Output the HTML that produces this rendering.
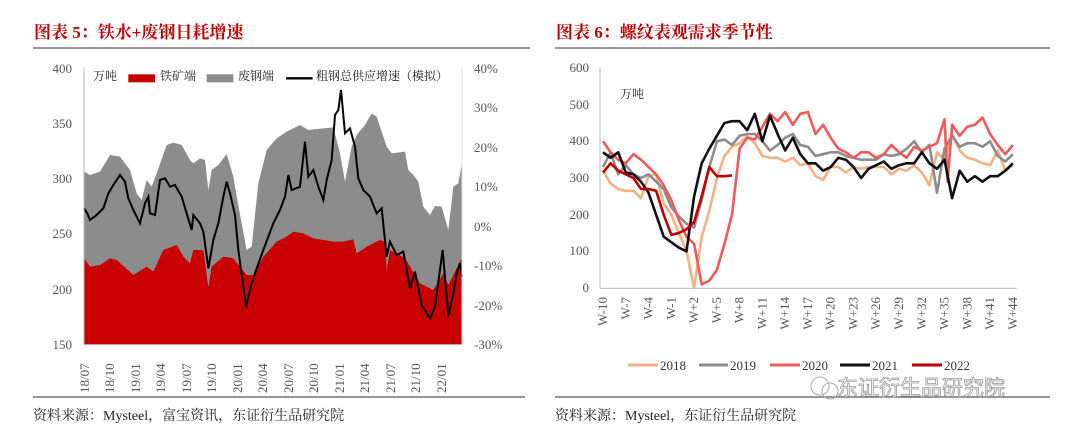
<!DOCTYPE html>
<html><head><meta charset="utf-8"><style>
body{margin:0;width:1080px;height:436px;background:#fff;overflow:hidden;font-family:"Liberation Serif","Noto Serif CJK SC",serif;}
</style></head><body>
<svg width="1080" height="436" xmlns="http://www.w3.org/2000/svg" font-family="Liberation Serif, Noto Serif CJK SC, serif">
<text x="34" y="38" font-size="17" font-weight="bold" fill="#c00000">图表 5：铁水+废钢日耗增速</text>
<text x="556" y="38" font-size="17" font-weight="bold" fill="#c00000">图表 6：螺纹表观需求季节性</text>
<line x1="33" y1="48" x2="530" y2="48" stroke="#777" stroke-width="1.5"/>
<line x1="555" y1="48" x2="1050" y2="48" stroke="#777" stroke-width="1.5"/>
<line x1="33" y1="397" x2="525" y2="397" stroke="#555" stroke-width="1.2"/>
<line x1="555" y1="397" x2="1050" y2="397" stroke="#555" stroke-width="1.2"/>
<text x="33" y="420" font-size="14" fill="#222">资料来源：Mysteel，富宝资讯，东证衍生品研究院</text>
<text x="555" y="420" font-size="14" fill="#222">资料来源：Mysteel，东证衍生品研究院</text>

<!-- left chart -->
<g transform="translate(0,50) scale(0.3333333)">
<path d="M252,884 L252,365 L270,375 L300,365 L330,315 L360,320 L390,360 L410,430 L425,450 L440,390 L455,410 L470,370 L500,285 L520,278 L545,285 L570,330 L580,340 L600,325 L615,330 L625,420 L635,360 L655,345 L680,312 L700,380 L712,450 L740,600 L755,590 L775,400 L800,300 L830,265 L860,245 L900,225 L925,240 L940,238 L1000,232 L1020,310 L1035,395 L1055,290 L1070,255 L1095,225 L1115,190 L1130,200 L1160,290 L1175,310 L1215,305 L1225,360 L1240,375 L1255,395 L1270,470 L1290,495 L1305,468 L1325,470 L1345,540 L1360,410 L1375,400 L1385,345 L1385,884 Z" fill="#8c8c8c"/>
<path d="M252,884 L252,625 L270,650 L300,645 L330,625 L350,630 L400,675 L440,650 L460,665 L490,600 L530,585 L550,620 L570,640 L580,600 L610,600 L625,712 L635,650 L670,620 L700,625 L712,640 L740,675 L760,675 L790,620 L830,575 L860,560 L880,545 L910,550 L940,565 L1000,575 L1030,575 L1060,568 L1070,610 L1100,590 L1140,570 L1155,575 L1160,660 L1170,600 L1215,625 L1230,650 L1260,700 L1300,720 L1330,670 L1345,705 L1365,665 L1385,625 L1385,884 Z" fill="#c80000"/>
<path d="M252,475 L262,490 L270,510 L290,495 L310,475 L325,430 L340,405 L360,375 L375,395 L385,445 L400,480 L420,520 L435,460 L445,440 L450,490 L465,495 L480,390 L495,385 L510,410 L525,405 L545,440 L560,490 L575,540 L580,495 L600,520 L610,545 L625,655 L640,570 L655,520 L670,440 L680,395 L690,430 L705,495 L715,600 L738,770 L755,700 L770,655 L790,600 L805,560 L820,520 L840,480 L855,440 L865,375 L875,420 L900,410 L915,275 L925,380 L940,360 L955,410 L970,450 L980,390 L995,330 L1005,195 L1015,180 L1023,120 L1035,250 L1050,235 L1065,290 L1075,385 L1090,420 L1110,440 L1130,490 L1145,475 L1160,620 L1170,575 L1190,615 L1210,605 L1230,715 L1245,665 L1265,765 L1290,805 L1305,770 L1328,600 L1345,800 L1360,730 L1370,670 L1380,640 L1386,680" fill="none" stroke="#000" stroke-width="6"/>
<line x1="252" y1="52" x2="252" y2="884" stroke="#bbb" stroke-width="3"/>
<line x1="252" y1="884" x2="1386" y2="884" stroke="#bbb" stroke-width="3"/>
<line x1="1386" y1="52" x2="1386" y2="884" stroke="#ddd" stroke-width="3"/>
<rect x="385" y="73" width="80" height="24" fill="#c80000"/>
<rect x="620" y="73" width="80" height="24" fill="#8c8c8c"/>
<line x1="858" y1="85" x2="938" y2="85" stroke="#000" stroke-width="7"/>
</g>
<g font-size="13" fill="#555">
<text x="72" y="73" text-anchor="end">400</text>
<text x="72" y="128" text-anchor="end">350</text>
<text x="72" y="183" text-anchor="end">300</text>
<text x="72" y="238" text-anchor="end">250</text>
<text x="72" y="294" text-anchor="end">200</text>
<text x="72" y="349" text-anchor="end">150</text>
<text x="474" y="73">40%</text>
<text x="474" y="112">30%</text>
<text x="474" y="152">20%</text>
<text x="474" y="191">10%</text>
<text x="474" y="231">0%</text>
<text x="474" y="270">-10%</text>
<text x="474" y="310">-20%</text>
<text x="474" y="349">-30%</text>
</g>
<g font-size="12" fill="#222">
<text x="93" y="80">万吨</text>
<text x="160" y="80">铁矿端</text>
<text x="238" y="80">废钢端</text>
<text x="316" y="80">粗钢总供应增速（模拟）</text>
</g>
<g font-size="13" fill="#555">
<text transform="translate(89,393) rotate(-90)">18/07</text>
<text transform="translate(114,393) rotate(-90)">18/10</text>
<text transform="translate(140,393) rotate(-90)">19/01</text>
<text transform="translate(165,393) rotate(-90)">19/04</text>
<text transform="translate(191,393) rotate(-90)">19/07</text>
<text transform="translate(216,393) rotate(-90)">19/10</text>
<text transform="translate(242,393) rotate(-90)">20/01</text>
<text transform="translate(267,393) rotate(-90)">20/04</text>
<text transform="translate(293,393) rotate(-90)">20/07</text>
<text transform="translate(318,393) rotate(-90)">20/10</text>
<text transform="translate(344,393) rotate(-90)">21/01</text>
<text transform="translate(369,393) rotate(-90)">21/04</text>
<text transform="translate(395,393) rotate(-90)">21/07</text>
<text transform="translate(420,393) rotate(-90)">21/10</text>
<text transform="translate(446,393) rotate(-90)">22/01</text>
</g>

<!-- right chart -->
<g transform="translate(540,50) scale(0.3333333)">
<line x1="180" y1="52" x2="180" y2="715" stroke="#bbb" stroke-width="3"/>
<line x1="180" y1="715" x2="1430" y2="715" stroke="#bbb" stroke-width="3"/>
</g>
<g fill="none" stroke-width="2.6" stroke-linejoin="round" id="series"></g>
<g font-size="13" fill="#555" text-anchor="end">
<text x="589" y="72">600</text><text x="589" y="109">500</text><text x="589" y="145">400</text><text x="589" y="182">300</text><text x="589" y="219">200</text><text x="589" y="255">100</text><text x="589" y="292">0</text>
</g>
<text x="620" y="98" font-size="12" fill="#222">万吨</text>
<g font-size="13" fill="#555" id="wk"></g>
<g stroke-width="3">
<line x1="628" y1="365" x2="658" y2="365" stroke="#f4b183"/>
<line x1="699" y1="365" x2="728" y2="365" stroke="#8c8c8c"/>
<line x1="770" y1="365" x2="800" y2="365" stroke="#f05a5a"/>
<line x1="840" y1="365" x2="870" y2="365" stroke="#111"/>
<line x1="912" y1="365" x2="942" y2="365" stroke="#c00000"/>
</g>
<g font-size="13" fill="#333">
<text x="660" y="370">2018</text><text x="730" y="370">2019</text><text x="802" y="370">2020</text><text x="872" y="370">2021</text><text x="944" y="370">2022</text>
</g>
<text x="837" y="395" font-size="21" fill="#fff" stroke="#999" stroke-width="0.8" font-family="Liberation Sans, Noto Sans CJK SC, sans-serif">东证衍生品研究院</text>
<circle cx="820" cy="386" r="9" fill="none" stroke="#aaa"/>
<circle cx="830" cy="391" r="8" fill="none" stroke="#aaa"/>
</svg>
<script>
const S={
"#f4b183":[320,285,270,265,265,245,305,310,230,200,150,100,0,140,210,300,360,385,395,415,395,360,355,355,345,355,335,340,305,295,330,330,315,330,325,330,330,330,310,325,320,335,315,280,370,350,420,375,355,350,340,335,375,320,335],
"#8c8c8c":[330,370,310,335,310,300,310,290,270,220,195,175,165,240,330,400,405,390,415,420,420,400,375,390,410,420,390,385,360,365,370,370,360,355,350,350,350,365,360,365,380,400,370,390,260,380,415,385,395,395,385,400,360,345,365],
"#f05a5a":[400,370,350,340,365,350,330,310,280,240,185,140,120,10,20,50,120,200,380,410,405,440,475,455,480,445,475,480,420,445,410,380,370,355,370,370,355,365,390,370,355,385,375,385,395,460,290,445,415,440,445,465,420,390,365,390],
"#111":[370,355,370,315,310,290,260,200,140,125,110,100,250,340,380,415,450,455,455,430,475,400,470,420,375,410,365,340,340,320,330,355,350,330,300,325,335,345,325,335,340,340,370,340,325,350,245,320,290,305,290,305,305,320,340],
"#c00000":[315,340,320,310,300,270,270,265,200,145,150,160,180,250,330,305,305,307]};
const ns="http://www.w3.org/2000/svg";
const g=document.getElementById("series");
for(const c in S){const a=S[c];let d="";
 a.forEach((v,i)=>{let ii=i;if(c=="#f05a5a"&&i>=46)ii=i-0.6; if(c=="#f05a5a"&&i>46)ii=i-1;
  d+=(i?"L":"M")+(603+ii*7.59).toFixed(1)+","+(288-v*0.3667).toFixed(1);});
 const p=document.createElementNS(ns,"path");p.setAttribute("d",d);p.setAttribute("stroke",c);g.appendChild(p);}
const w=document.getElementById("wk");
for(let k=-10;k<=44;k+=3){const i=k+10;const x=603+i*7.59+4;
 const t=document.createElementNS(ns,"text");t.setAttribute("transform",`translate(${x},297) rotate(-90)`);
 t.setAttribute("text-anchor","end");t.textContent="W"+(k<0?k:"+"+k);w.appendChild(t);}
</script>
</body></html>
